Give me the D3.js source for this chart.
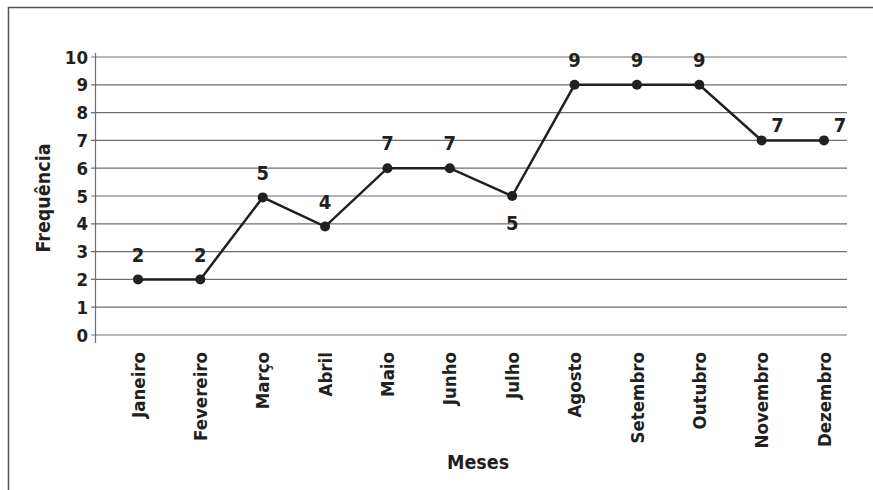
<!DOCTYPE html>
<html>
<head>
<meta charset="utf-8">
<script src="https://cdn.jsdelivr.net/npm/d3@7"></script>
<style>
  body { margin: 0; background: #fff; }
  svg text { font-family: "Liberation Sans Narrow", "DejaVu Sans Condensed", "Roboto", sans-serif; font-weight: bold; fill: #231f20; }
</style>
</head>
<body>
<div id="chart"></div>
<script>
// Dados do gráfico
const months = ['Janeiro', 'Fevereiro', 'Março', 'Abril', 'Maio', 'Junho',
                'Julho', 'Agosto', 'Setembro', 'Outubro', 'Novembro', 'Dezembro'];
// posição dos pontos como desenhados
const pointValues = [2, 2, 4.95, 3.9, 6, 6, 5, 9, 9, 9, 7, 7];
// rótulos impressos sobre os pontos
const pointLabels = ['2', '2', '5', '4', '7', '7', '5', '9', '9', '9', '7', '7'];
const yTicks = [0, 1, 2, 3, 4, 5, 6, 7, 8, 9, 10];

const width = 873;
const height = 490;
const ink = '#231f20';

const svg = d3.select('#chart').append('svg')
    .attr('width', width)
    .attr('height', height);

// moldura (só topo e esquerda)
svg.append('path')
    .attr('d', `M8.5,${height} V7.5 H${width}`)
    .attr('fill', 'none')
    .attr('stroke', '#555')
    .attr('stroke-width', 1.5);

const x = d3.scalePoint().domain(months).range([138, 824]);
const y = d3.scaleLinear().domain([0, 10]).range([335, 57]);

// grade horizontal
svg.append('g')
    .selectAll('line')
    .data(yTicks)
    .join('line')
    .attr('x1', 91).attr('x2', 847)
    .attr('y1', d => y(d)).attr('y2', d => y(d))
    .attr('stroke', '#6d6e71')
    .attr('stroke-width', 1.2);

// eixo y
svg.append('line')
    .attr('x1', 95.5).attr('x2', 95.5)
    .attr('y1', 53).attr('y2', 343)
    .attr('stroke', '#6d6e71')
    .attr('stroke-width', 1.2);

svg.append('g')
    .selectAll('text')
    .data(yTicks)
    .join('text')
    .attr('x', 88)
    .attr('y', d => y(d))
    .attr('dy', '0.36em')
    .attr('text-anchor', 'end')
    .attr('font-size', 18.5)
    .text(d => d);

// rótulos dos meses (girados)
svg.append('g')
    .selectAll('text')
    .data(months)
    .join('text')
    .attr('transform', d => `translate(${x(d)},352) rotate(-90)`)
    .attr('dy', '0.36em')
    .attr('text-anchor', 'end')
    .attr('font-size', 18.5)
    .text(d => d);

// títulos dos eixos
svg.append('text')
    .attr('transform', 'translate(43,198) rotate(-90)')
    .attr('dy', '0.36em')
    .attr('text-anchor', 'middle')
    .attr('font-size', 19.5)
    .text('Frequência');

svg.append('text')
    .attr('x', 478)
    .attr('y', 462)
    .attr('dy', '0.36em')
    .attr('text-anchor', 'middle')
    .attr('font-size', 19.5)
    .text('Meses');

// linha
const line = d3.line()
    .x((d, i) => x(months[i]))
    .y(d => y(d));

svg.append('path')
    .datum(pointValues)
    .attr('d', line)
    .attr('fill', 'none')
    .attr('stroke', ink)
    .attr('stroke-width', 2.5);

svg.append('g')
    .selectAll('circle')
    .data(pointValues)
    .join('circle')
    .attr('cx', (d, i) => x(months[i]))
    .attr('cy', d => y(d))
    .attr('r', 5)
    .attr('fill', ink);

// rótulos dos valores
const labelOffset = (i) => {
    if (months[i] === 'Julho') return { dx: 0, dy: 27 };
    if (months[i] === 'Novembro' || months[i] === 'Dezembro') return { dx: 16, dy: -16 };
    return { dx: 0, dy: -25 };
};

svg.append('g')
    .selectAll('text')
    .data(pointLabels)
    .join('text')
    .attr('x', (d, i) => x(months[i]) + labelOffset(i).dx)
    .attr('y', (d, i) => y(pointValues[i]) + labelOffset(i).dy)
    .attr('dy', '0.36em')
    .attr('text-anchor', 'middle')
    .attr('font-size', 20)
    .text(d => d);
</script>
</body>
</html>
